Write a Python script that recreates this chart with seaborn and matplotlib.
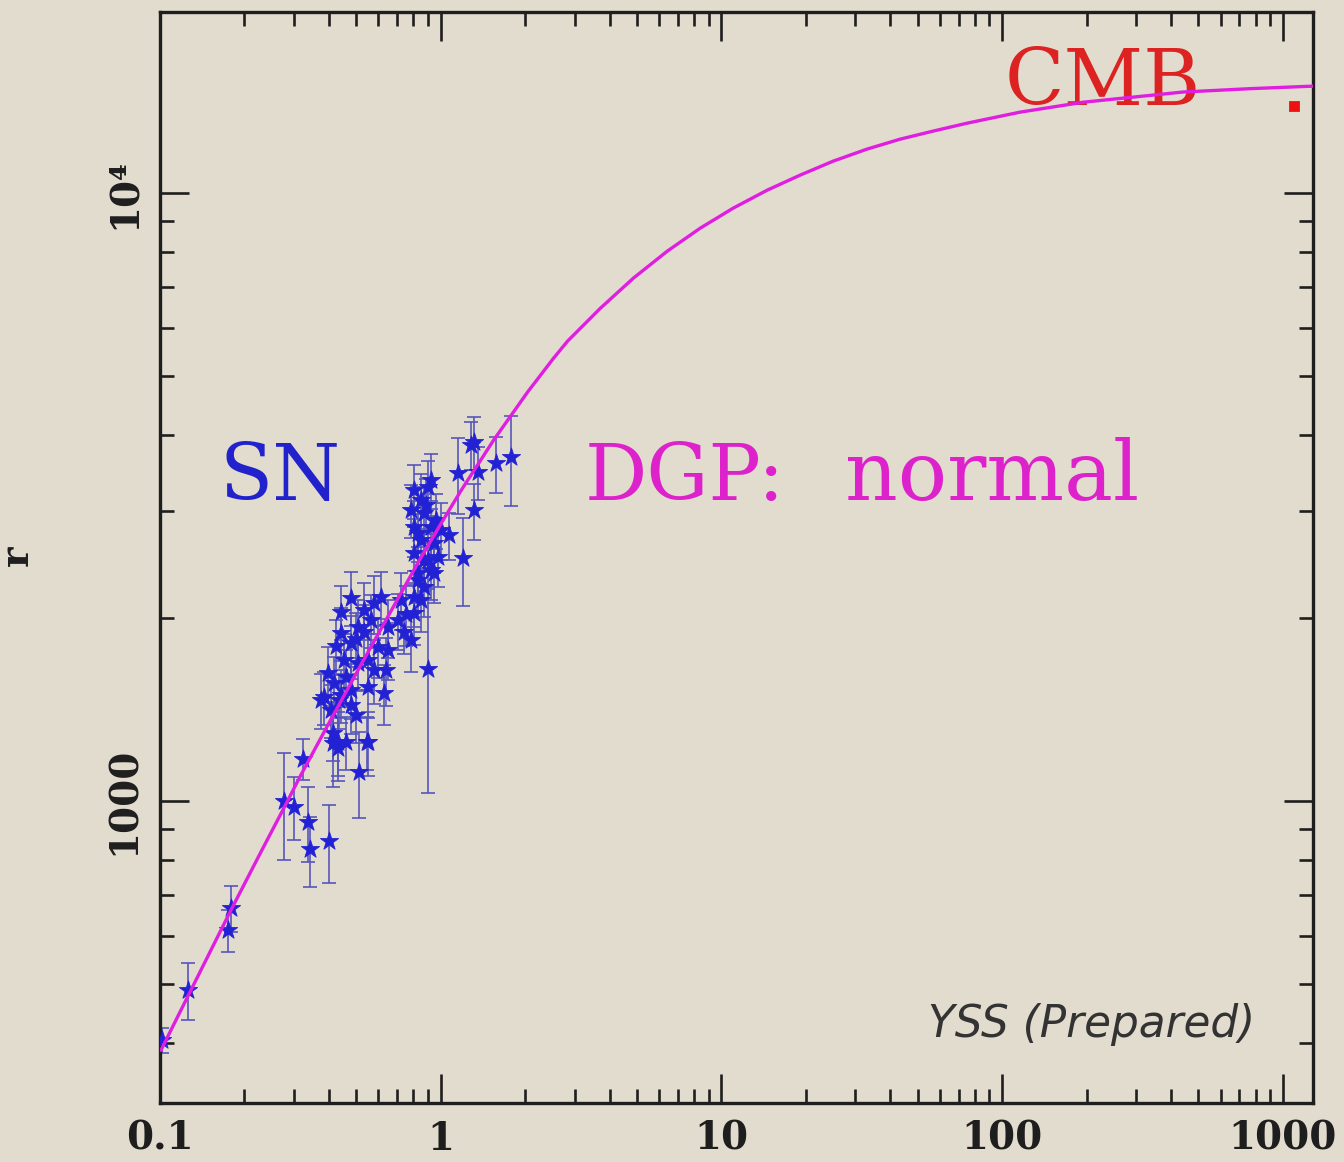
import numpy as np
import matplotlib
matplotlib.use("Agg")
import matplotlib.pyplot as plt
import seaborn as sns
from matplotlib.ticker import FixedLocator, FixedFormatter, LogLocator, NullFormatter

# ---- DGP model curve ----
curve_z = [0.1008, 0.1258, 0.179, 0.2288, 0.2762, 0.3176, 0.3963, 0.5192, 0.6803, 0.8283,
           1.0, 1.178, 1.544, 2.039, 2.525, 2.831, 3.709, 4.858, 6.416, 8.405,
           11.01, 14.56, 19.07, 24.99, 33.0, 43.3, 56.7, 75.0, 115.7, 194.5,
           440, 762, 1280]
curve_r = [389.5, 478, 662, 824.7, 974, 1104, 1334, 1674, 2093, 2463,
           2855, 3235, 3925, 4707, 5353, 5710, 6470, 7248, 8028, 8758,
           9447, 10114, 10706, 11287, 11814, 12268, 12647, 13034, 13589, 14111,
           14665, 14853, 14997]

# ---- SN data ----
sn_z = [0.102, 0.126, 0.175, 0.179, 0.276, 0.300, 0.323, 0.337, 0.342, 0.400,
        0.430, 0.459, 0.511, 0.545, 0.899, 0.413, 0.413, 0.383, 0.416, 0.396,
        0.452, 0.478, 0.441, 0.507, 0.532, 0.578, 0.563, 0.612, 0.648, 0.597,
        0.550, 0.507, 0.578, 0.648, 0.739, 0.801, 0.849, 0.828, 0.921, 0.870,
        0.703, 0.478, 0.550, 0.627, 0.434, 0.801, 0.849, 0.782, 0.870, 0.801,
        0.921, 0.849, 0.944, 0.801, 0.899, 0.828, 0.944, 0.870, 0.801, 0.976,
        0.899, 0.828, 1.310, 1.279, 1.149, 1.354, 1.570, 1.774, 1.310, 1.068,
        1.198, 0.374, 0.406, 0.441, 0.478, 0.498, 0.637, 0.550, 0.430, 0.441,
        0.478, 0.423, 0.498, 0.532, 0.459, 0.751, 0.782, 0.720, 0.960, 1.000,
        0.884, 0.921]
sn_r = [405, 489, 614, 667, 1000, 980, 1175, 925, 833, 860,
        1225, 1250, 1118, 1250, 1650, 1293, 1246, 1483, 1564, 1624,
        1706, 1819, 1889, 1933, 2062, 2117, 1985, 2165, 1933, 1792,
        1706, 1687, 1643, 1772, 1897, 2039, 2141, 2309, 2399, 2491,
        1985, 1523, 1540, 1505, 1466, 3247, 3127, 3010, 2977, 2823,
        2823, 2687, 2657, 2558, 2491, 2371, 2371, 2249, 2165, 2520,
        3284, 2760, 3895, 3851, 3463, 3475, 3596, 3679, 3010, 2739,
        2510, 1466, 1412, 1494, 1439, 1385, 1643, 1250, 1250, 2050,
        2160, 1800, 1850, 1900, 1600, 2030, 1840, 2141, 2899, 2790,
        3070, 3373]
sn_err = [19, 52, 48, 58, 200, 118, 93, 130, 110, 125,
          147, 124, 180, 124, 620, 130, 190, 150, 160, 170,
          180, 200, 190, 210, 220, 230, 200, 220, 210, 200,
          180, 170, 200, 190, 150, 230, 240, 250, 260, 270,
          210, 160, 170, 170, 150, 330, 320, 300, 310, 300,
          290, 280, 280, 270, 260, 250, 250, 240, 230, 270,
          340, 290, 390, 350, 500, 350, 380, 625, 316, 245,
          415, 150, 140, 150, 150, 140, 210, 150, 150, 210,
          220, 190, 190, 200, 170, 230, 210, 230, 300, 300,
          320, 350]

# ---- CMB point ----
cmb_z = [1100]
cmb_r = [13900]

xtick_vals = [0.1, 1, 10, 100, 1000]
xtick_labels = ["0.1", "1", "10", "100", "1000"]
ytick_vals = [1000, 10000]
ytick_labels = ["1000", "10\u2074"]

BG = "#e2dccf"
INK = "#1e1e1e"

sns.set_theme(style="ticks")
plt.rcParams["font.family"] = ["DejaVu Serif", "DejaVu Sans"]

fig = plt.figure(figsize=(13.44, 11.62), dpi=100, facecolor=BG)
ax = fig.add_axes([0.1190, 0.0508, 0.8579, 0.9389])
ax.set_facecolor(BG)
ax.set_xscale("log")
ax.set_yscale("log")

ax.errorbar(sn_z, sn_r, yerr=sn_err, fmt="none", ecolor="#5656bc",
            elinewidth=1.4, capsize=5, capthick=1.4, alpha=0.85, zorder=2)
sns.scatterplot(x=sn_z, y=sn_r, marker="*", s=190, color="#2222d4",
                edgecolor="#2222d4", linewidth=0.6, ax=ax, zorder=3)
sns.lineplot(x=curve_z, y=curve_r, color="#e01ee0", linewidth=2.4,
             ax=ax, zorder=4)
sns.scatterplot(x=cmb_z, y=cmb_r, marker="s", s=50, color="#ee1111",
                edgecolor="#ee1111", ax=ax, zorder=5)

ax.set_xlim(0.1, 1280)
ax.set_ylim(319, 19860)

ax.xaxis.set_major_locator(FixedLocator(xtick_vals))
ax.xaxis.set_major_formatter(FixedFormatter(xtick_labels))
ax.yaxis.set_major_locator(FixedLocator(ytick_vals))
ax.yaxis.set_major_formatter(FixedFormatter(ytick_labels))
ax.xaxis.set_minor_locator(LogLocator(base=10, subs=np.arange(2, 10)))
ax.yaxis.set_minor_locator(LogLocator(base=10, subs=np.arange(2, 10)))
ax.xaxis.set_minor_formatter(NullFormatter())
ax.yaxis.set_minor_formatter(NullFormatter())

ax.tick_params(which="major", direction="in", length=21, width=1.9,
               top=True, right=True, color=INK, labelcolor=INK,
               labelsize=28, pad=12)
ax.tick_params(which="minor", direction="in", length=10, width=1.9,
               top=True, right=True, color=INK)
for lab in ax.get_yticklabels():
    lab.set_rotation(90)
    lab.set_va("center")
for lab in ax.get_xticklabels() + ax.get_yticklabels():
    lab.set_fontweight("bold")

for sp in ax.spines.values():
    sp.set_linewidth(2.4)
    sp.set_color(INK)

ax.set_xlabel("")
ax.set_ylabel("r", fontsize=28, color=INK, rotation=90, fontweight="bold")
ax.yaxis.set_label_coords(-0.108, 0.502)

ax.text(0.052, 0.5527, "SN", transform=ax.transAxes, fontsize=56,
        color="#2222cc", ha="left", va="baseline")
ax.text(0.3686, 0.5527, "DGP:", transform=ax.transAxes, fontsize=56,
        color="#dd22cc", ha="left", va="baseline")
ax.text(0.594, 0.5527, "normal", transform=ax.transAxes, fontsize=59,
        color="#dd22cc", ha="left", va="baseline")
ax.text(0.733, 0.9148, "CMB", transform=ax.transAxes, fontsize=56,
        color="#dd2222", ha="left", va="baseline")
ax.text(0.9497, 0.0605, "YSS (Prepared)", transform=ax.transAxes,
        fontsize=31.5, color="#333333", ha="right", va="baseline",
        family=["DejaVu Sans"], style="italic")

fig.savefig("out.png", dpi=100, facecolor=BG)
